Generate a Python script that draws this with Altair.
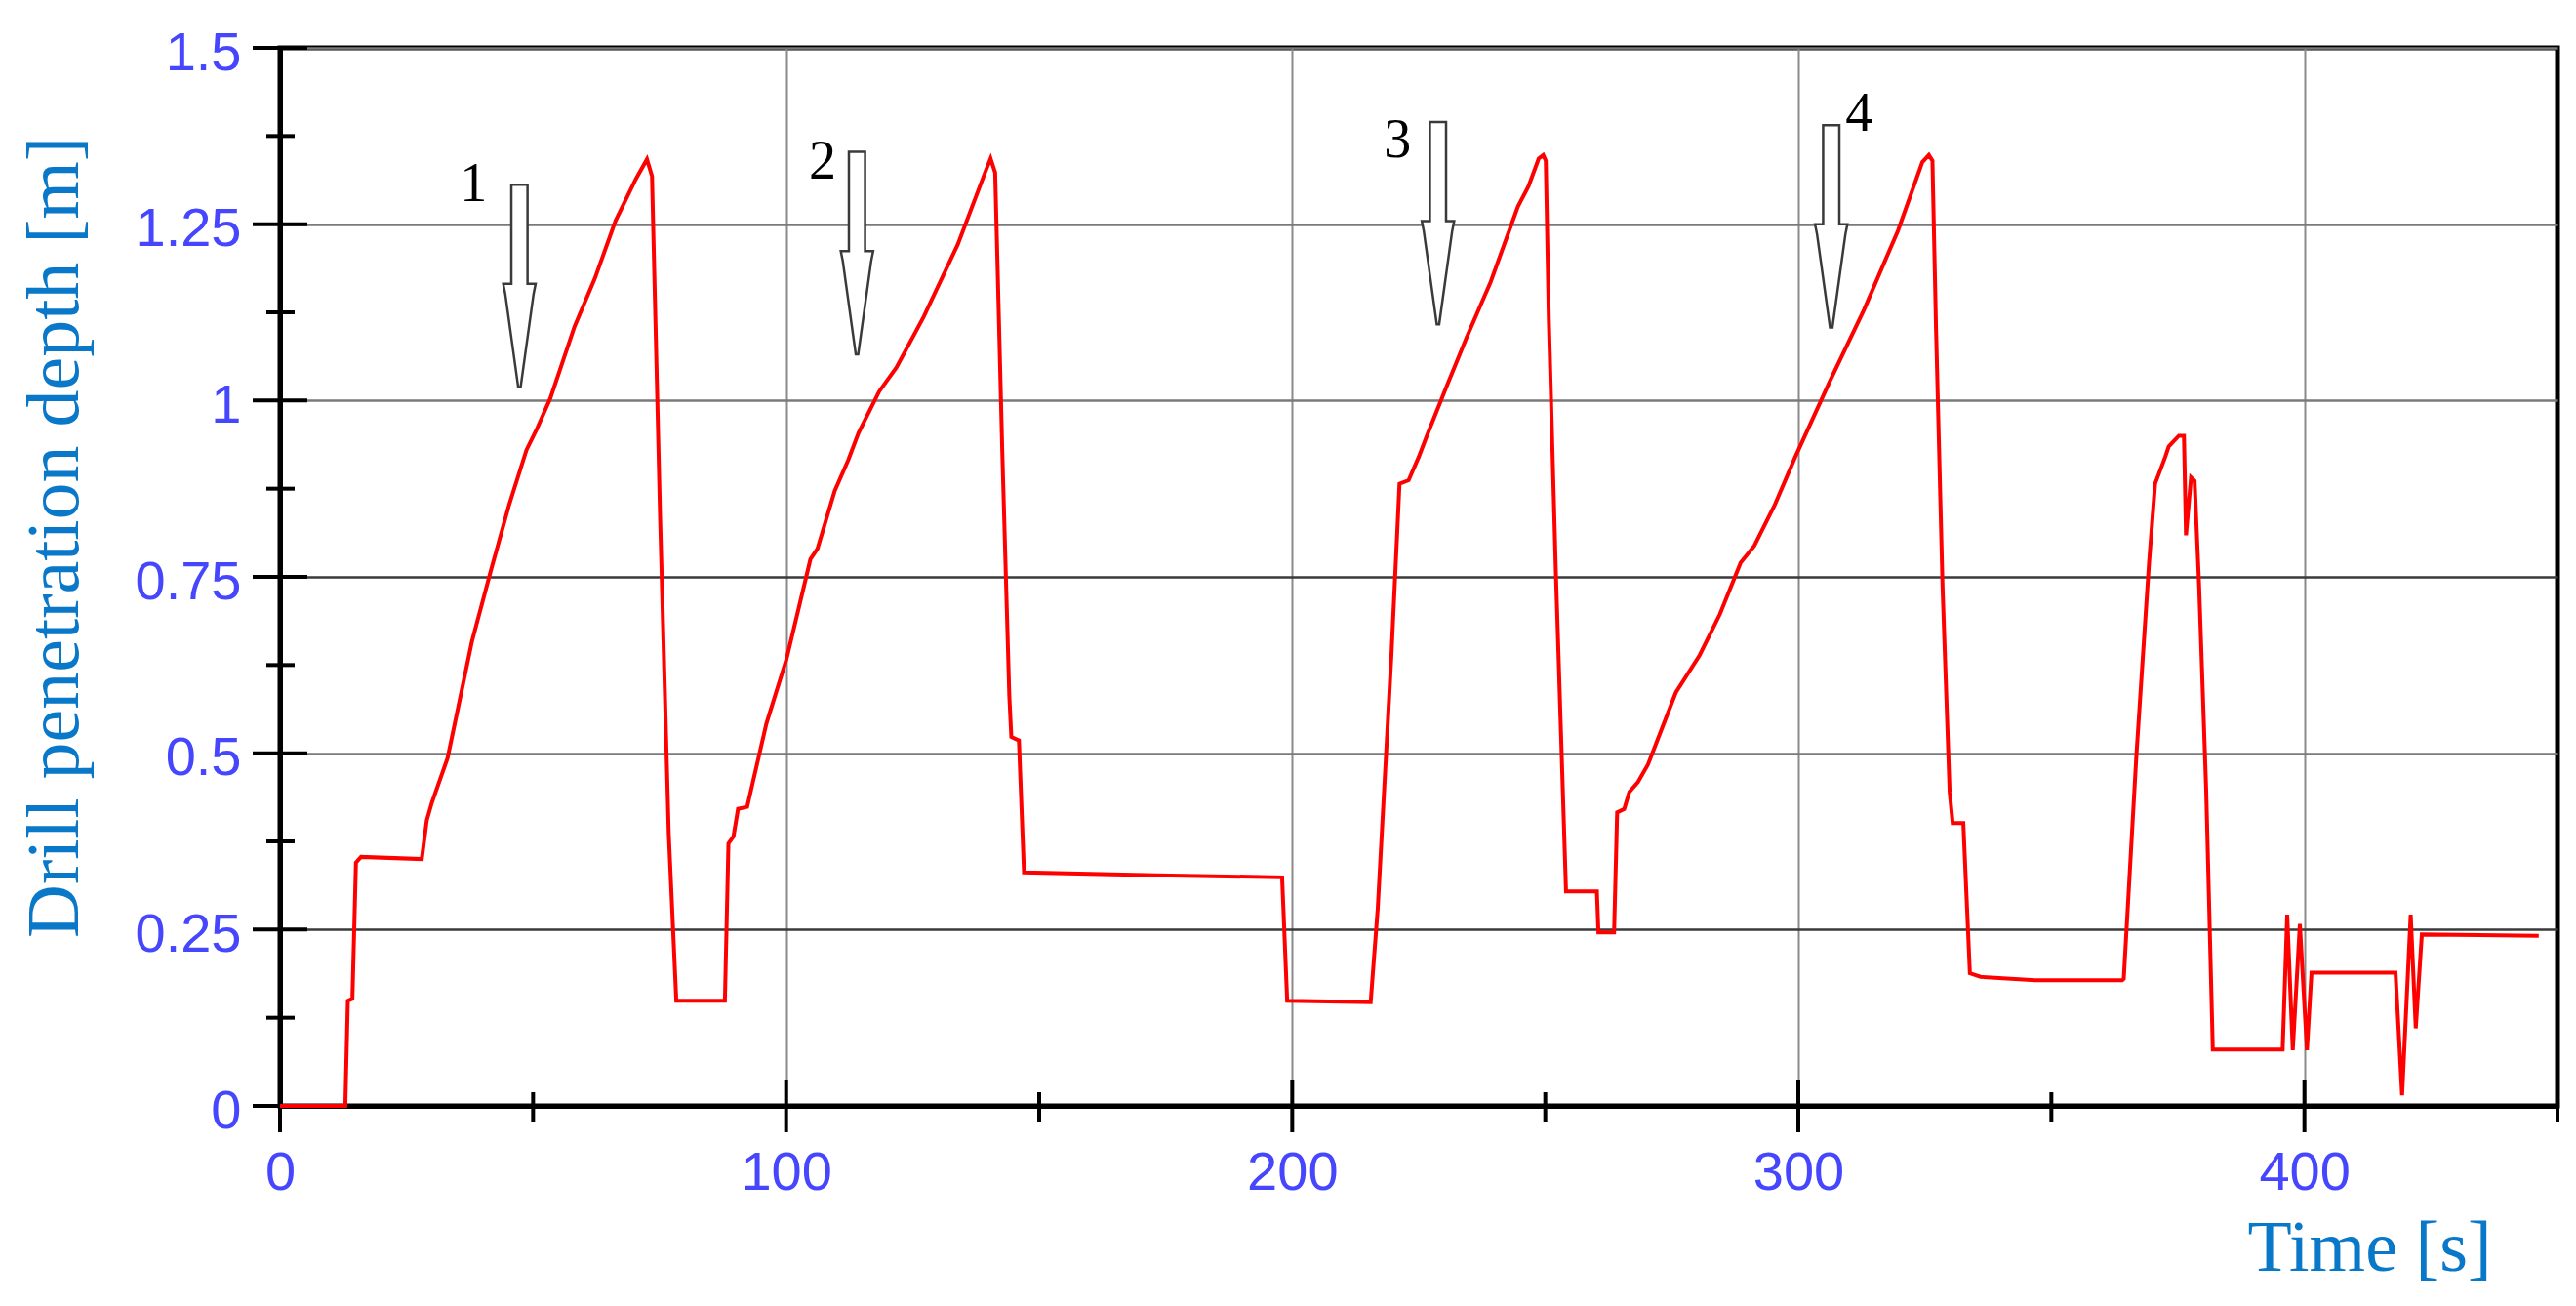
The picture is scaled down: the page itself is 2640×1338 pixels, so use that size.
import altair as alt
import pandas as pd

# ---- data ----
time_s = [0, 12.9, 13.4, 14.3, 15.0, 16.0, 28.0, 29.0, 30.0, 33.1, 37.9, 41.7, 45.3, 48.7, 50.7,
          53.4, 58.2, 62.2, 66.3, 70.3, 72.5, 73.5, 75.1, 76.8, 78.3, 87.9, 88.6, 89.6, 90.5, 92.3,
          96.1, 100.1, 104.8, 106.2, 109.6, 112.3, 114.3, 118.4, 121.8, 127.2, 133.9, 139.3, 140.4,
          141.3, 142.7, 144.1, 144.5, 146.0, 147.0, 173.2, 198.0, 199.0, 215.5, 216.9, 219.6, 221.2,
          223.0, 225.0, 226.6, 230.4, 234.5, 239.2, 244.6, 246.7, 248.7, 249.6, 250.1, 250.7, 252.1,
          254.1, 260.2, 260.5, 263.6, 264.2, 265.6, 266.6, 268.3, 270.3, 272.4, 275.8, 280.5, 284.5,
          288.6, 291.3, 295.4, 299.4, 306.2, 313.0, 319.7, 324.5, 325.8, 326.5, 327.2, 328.5, 329.9,
          330.5, 332.6, 333.9, 336.0, 346.8, 364.0, 364.3, 366.8, 369.3, 370.5, 372.5, 373.2, 375.2,
          376.2, 376.6, 377.6, 378.3, 379.2, 380.6, 381.9, 395.7, 396.6, 397.7, 399.1, 400.5, 401.4,
          418.0, 419.3, 421.0, 422.0, 423.2, 446.3]
depth_m = [0, 0, 0.149, 0.152, 0.345, 0.353, 0.350, 0.405, 0.430, 0.493, 0.658, 0.760, 0.853, 0.930, 0.959,
           1.003, 1.105, 1.173, 1.255, 1.314, 1.342, 1.318, 0.833, 0.387, 0.149, 0.149, 0.372, 0.382, 0.421, 0.424,
           0.542, 0.634, 0.775, 0.790, 0.872, 0.916, 0.954, 1.013, 1.047, 1.119, 1.221, 1.323, 1.343,
           1.323, 0.930, 0.581, 0.523, 0.518, 0.331, 0.327, 0.324, 0.149, 0.147, 0.280, 0.639, 0.882,
           0.887, 0.920, 0.950, 1.018, 1.090, 1.168, 1.275, 1.304, 1.343, 1.348, 1.340, 1.115, 0.755,
           0.304, 0.304, 0.246, 0.246, 0.416, 0.421, 0.445, 0.459, 0.484, 0.523, 0.586, 0.639, 0.697,
           0.770, 0.794, 0.853, 0.920, 1.027, 1.129, 1.241, 1.338, 1.348, 1.340, 1.105, 0.736, 0.445,
           0.401, 0.401, 0.188, 0.183, 0.178, 0.178, 0.180, 0.497, 0.770, 0.882, 0.920, 0.935, 0.950,
           0.950, 0.809, 0.891, 0.886, 0.736, 0.445, 0.080, 0.080, 0.271, 0.079, 0.258, 0.079, 0.189,
           0.189, 0.015, 0.271, 0.110, 0.243, 0.241]

arrow_t = [47.3, 114.0, 228.8, 306.5]
arrow_v = [1.1625, 1.209, 1.2515, 1.247]
label_text = ["1", "2", "3", "4"]
label_t = [38.2, 107.2, 220.8, 312.0]
label_v = [1.306, 1.338, 1.369, 1.406]

x_major = [0, 100, 200, 300, 400]
x_minor = [50, 150, 250, 350, 450]
y_major = [0, 0.25, 0.5, 0.75, 1, 1.25, 1.5]
y_minor = [0.125, 0.375, 0.625, 0.875, 1.125, 1.375]

W, H = 2334, 1084
LABEL_BLUE = "#4646ff"
TITLE_BLUE = "#0a78c8"

xscale = alt.Scale(domain=[0, 450], nice=False, zero=False)
yscale = alt.Scale(domain=[0, 1.5], nice=False, zero=False)

line_df = pd.DataFrame({"t": time_s, "v": depth_m})
arrow_df = pd.DataFrame({"t": arrow_t, "v": arrow_v})
label_df = pd.DataFrame({"t": label_t, "v": label_v, "s": label_text})
xmaj_df = pd.DataFrame({"t": x_major})
xmin_df = pd.DataFrame({"t": x_minor})
ymaj_df = pd.DataFrame({"v": y_major})
ymin_df = pd.DataFrame({"v": y_minor})

x_axis = alt.Axis(
    values=x_major, labelExpr="'' + datum.value", grid=True, gridColor="#8a8a8a", gridWidth=2,
    ticks=False, tickSize=0, domain=True, domainColor="black", domainWidth=5,
    labelFont="Liberation Sans", labelFontSize=56, labelColor=LABEL_BLUE,
    labelPadding=41, labelFlush=False,
    title="Time [s]", titleFont="Liberation Serif", titleFontSize=74,
    titleFontWeight="normal", titleColor=TITLE_BLUE,
    titleX=2141, titleY=168, titleAlign="center", titleBaseline="alphabetic",
)
y_axis = alt.Axis(
    values=y_major, labelExpr="'' + datum.value", grid=True,
    gridColor={"condition": {"test": "datum.value == 0.25 || datum.value == 0.75",
                             "value": "#3a3a3a"}, "value": "#7a7a7a"},
    gridWidth=2.5,
    ticks=False, tickSize=0, domain=True, domainColor="black", domainWidth=5,
    labelFont="Liberation Sans", labelFontSize=56, labelColor=LABEL_BLUE,
    labelPadding=40, labelOffset=5, labelFlush=False,
    title="Drill penetration depth [m]", titleFont="Liberation Serif", titleFontSize=76,
    titleFontWeight="normal", titleColor=TITLE_BLUE, titleAngle=270,
    titleX=-208, titleY=501, titleAlign="center", titleBaseline="alphabetic",
)

X = lambda: alt.X("t:Q", scale=xscale, axis=x_axis)
Y = lambda: alt.Y("v:Q", scale=yscale, axis=y_axis)

line = alt.Chart(line_df).mark_line(color="#ff0000", strokeWidth=4).encode(x=X(), y=Y())

yt_major = alt.Chart(ymaj_df).mark_rule(color="black", strokeWidth=4).encode(
    y=Y(), x=alt.value(-28), x2=alt.value(28))
yt_minor = alt.Chart(ymin_df).mark_rule(color="black", strokeWidth=4).encode(
    y=Y(), x=alt.value(-14), x2=alt.value(15))
xt_major = alt.Chart(xmaj_df).mark_rule(color="black", strokeWidth=4).encode(
    x=X(), y=alt.value(H - 27), y2=alt.value(H + 27))
xt_minor = alt.Chart(xmin_df).mark_rule(color="black", strokeWidth=4).encode(
    x=X(), y=alt.value(H - 14), y2=alt.value(H + 16))

ARROW = ("M -0.08 -1 L 0.08 -1 L 0.08 -0.02 L 0.16 -0.02 L 0.14 0.08 L 0.012 1 "
         "L -0.012 1 L -0.14 0.08 L -0.16 -0.02 L -0.08 -0.02 Z")
arrows = alt.Chart(arrow_df).mark_point(
    shape=ARROW, size=43000, filled=True, fill="white", stroke="#3a3a3a",
    strokeWidth=2.5, opacity=1,
).encode(x=X(), y=Y())
labels = alt.Chart(label_df).mark_text(
    font="Liberation Serif", fontSize=56, color="black", align="center", baseline="middle",
).encode(x=X(), y=Y(), text="s:N")

chart = alt.layer(yt_major, yt_minor, xt_major, xt_minor, arrows, labels, line).properties(
    width=W, height=H,
    autosize=alt.AutoSizeParams(type="none"),
    padding={"left": 279, "top": 41, "right": 11, "bottom": 196},
    background="white",
).configure_view(stroke="black", strokeWidth=5)

chart.save("out.html", embed_options={"renderer": "svg", "actions": False})
